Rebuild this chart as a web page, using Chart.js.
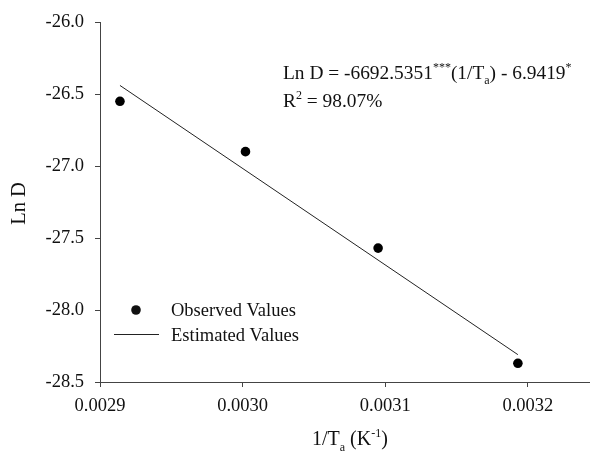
<!DOCTYPE html>
<html>
<head>
<meta charset="utf-8">
<script src="https://cdn.jsdelivr.net/npm/chart.js@4.4.1/dist/chart.umd.min.js"></script>
<style>
  html, body { margin: 0; padding: 0; background: #fff; }
  #wrap { width: 594px; height: 456px; }
</style>
</head>
<body>
<div id="wrap"><canvas id="arrChart" width="594" height="456"></canvas></div>
<script>
// data
const invTemp = [0.002914, 0.003002, 0.003095, 0.003193];
const observedLnD = [-26.55, -26.90, -27.57, -28.37];
const estimatedX = [0.002914, 0.003193];
const estimatedLnD = [-26.44, -28.31];
const xTicks = [0.0029, 0.0030, 0.0031, 0.0032];
const yTicks = [-26.0, -26.5, -27.0, -27.5, -28.0, -28.5];
const seriesLabels = ["Observed Values", "Estimated Values"];

const SERIF = "'Liberation Serif', 'Times New Roman', serif";
const AXIS = "#444";

// draws a run of text pieces, some raised or lowered
function richText(ctx, x, y, parts, size) {
  let cx = x;
  parts.forEach(p => {
    const s = p.small ? Math.round(size * 0.62) : size;
    ctx.font = s + "px " + SERIF;
    ctx.fillText(p.t, cx, y + (p.dy || 0));
    cx += ctx.measureText(p.t).width;
  });
  return cx - x;
}

const annotations = {
  id: "annotations",
  afterDraw(chart) {
    const ctx = chart.ctx;
    ctx.save();
    ctx.fillStyle = "#111";
    ctx.textBaseline = "alphabetic";
    ctx.textAlign = "left";

    // regression equation
    richText(ctx, 283, 79, [
      { t: "Ln D = -6692.5351" },
      { t: "***", small: true, dy: -8 },
      { t: "(1/T" },
      { t: "a", small: true, dy: 5 },
      { t: ") - 6.9419" },
      { t: "*", small: true, dy: -8 }
    ], 19.4);
    richText(ctx, 283, 107, [
      { t: "R" },
      { t: "2", small: true, dy: -8 },
      { t: " = 98.07%" }
    ], 19.4);

    // x axis title
    richText(ctx, 312, 445, [
      { t: "1/T" },
      { t: "a", small: true, dy: 6 },
      { t: " (K" },
      { t: "-1", small: true, dy: -8 },
      { t: ")" }
    ], 20);

    // y axis title
    ctx.save();
    ctx.translate(25, 203.5);
    ctx.rotate(-Math.PI / 2);
    ctx.textAlign = "center";
    ctx.font = "20.5px " + SERIF;
    ctx.fillText("Ln D", 0, 0);
    ctx.restore();

    // legend
    ctx.beginPath();
    ctx.arc(136, 310, 4.8, 0, Math.PI * 2);
    ctx.fill();
    ctx.strokeStyle = "#222";
    ctx.lineWidth = 1;
    ctx.beginPath();
    ctx.moveTo(114, 334.5);
    ctx.lineTo(159, 334.5);
    ctx.stroke();
    ctx.font = "18.5px " + SERIF;
    ctx.fillText(seriesLabels[0], 171, 316);
    ctx.fillText(seriesLabels[1], 171, 341);
    ctx.restore();
  }
};

new Chart(document.getElementById("arrChart"), {
  type: "scatter",
  data: {
    datasets: [
      {
        label: seriesLabels[0],
        data: invTemp.map((x, i) => ({ x: x, y: observedLnD[i] })),
        pointRadius: 4.8,
        pointBackgroundColor: "#000",
        pointBorderWidth: 0,
        showLine: false
      },
      {
        label: seriesLabels[1],
        data: estimatedX.map((x, i) => ({ x: x, y: estimatedLnD[i] })),
        showLine: true,
        borderColor: "#222",
        borderWidth: 1,
        pointRadius: 0
      }
    ]
  },
  plugins: [annotations],
  options: {
    responsive: false,
    animation: false,
    layout: { padding: { top: 21, right: 1, left: 0, bottom: 0 } },
    plugins: {
      legend: { display: false },
      tooltip: { enabled: false }
    },
    scales: {
      x: {
        type: "linear",
        min: 0.0029,
        max: 0.003243,
        afterBuildTicks: s => { s.ticks = xTicks.map(v => ({ value: v })); },
        afterFit: s => { s.height = 74; },
        border: { display: true, color: AXIS, width: 1 },
        grid: { drawOnChartArea: false, drawTicks: true, tickLength: 5, color: AXIS },
        ticks: {
          color: "#111",
          padding: 8,
          maxRotation: 0,
          font: { family: SERIF, size: 18.5 },
          callback: v => v.toFixed(4)
        }
      },
      y: {
        type: "linear",
        min: -28.5,
        max: -26.0,
        afterBuildTicks: s => { s.ticks = yTicks.map(v => ({ value: v })); },
        afterFit: s => { s.width = 100; },
        border: { display: true, color: AXIS, width: 1 },
        grid: { drawOnChartArea: false, drawTicks: true, tickLength: 5, color: AXIS },
        ticks: {
          color: "#111",
          padding: 11,
          font: { family: SERIF, size: 18.5 },
          callback: v => v.toFixed(1)
        }
      }
    }
  }
});
</script>
</body>
</html>
